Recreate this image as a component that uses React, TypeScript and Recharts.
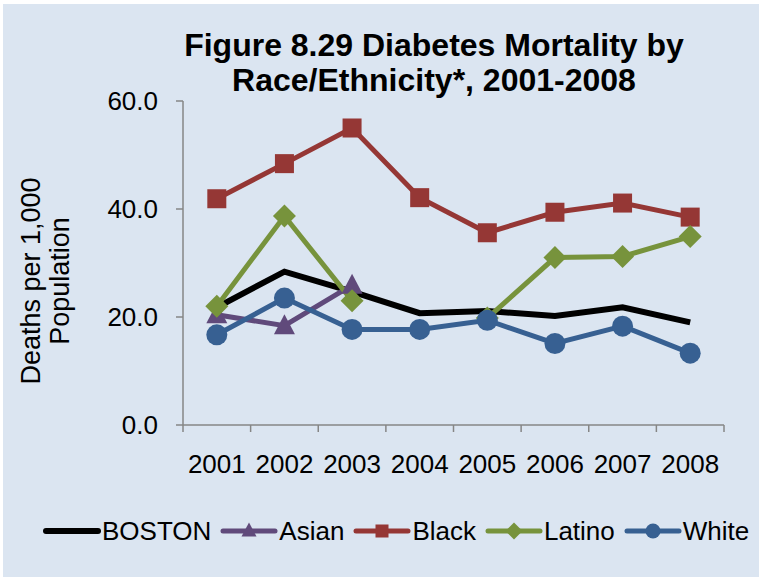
import React from "react";
import { LineChart, Line, XAxis, YAxis } from "recharts";

const years = ["2001", "2002", "2003", "2004", "2005", "2006", "2007", "2008"];
const boston = [21.8, 28.4, 24.7, 20.7, 21.1, 20.2, 21.8, 19.0];
const asian = [20.4, 18.4, 25.9, null, null, null, null, null];
const black = [41.9, 48.4, 55.0, 42.1, 35.6, 39.4, 41.1, 38.5];
const latino = [22.0, 38.7, 23.0, null, 19.8, 31.0, 31.2, 34.9];
const white = [16.7, 23.5, 17.7, 17.7, 19.4, 15.1, 18.3, 13.3];
const yTicks = [0, 20, 40, 60];

const data = years.map((year, i) => ({
  year,
  BOSTON: boston[i],
  Asian: asian[i],
  Black: black[i],
  Latino: latino[i],
  White: white[i],
}));

const W = 759;
const H = 577;
const PLOT_LEFT = 183;
const PLOT_RIGHT = 724;
const PLOT_TOP = 101;
const PLOT_BOTTOM = 425;
const HALF_BAND = (PLOT_RIGHT - PLOT_LEFT) / years.length / 2;
const FONT = "'Liberation Sans', Arial, sans-serif";
const AXIS = "#868686";

type Shape = "none" | "triangle" | "square" | "diamond" | "circle";

const series: { key: string; color: string; shape: Shape; width: number }[] = [
  { key: "BOSTON", color: "#000000", shape: "none", width: 6 },
  { key: "Asian", color: "#604a7b", shape: "triangle", width: 5 },
  { key: "Black", color: "#953735", shape: "square", width: 5 },
  { key: "Latino", color: "#77933c", shape: "diamond", width: 5 },
  { key: "White", color: "#376092", shape: "circle", width: 5 },
];

function marker(shape: Shape, color: string, cx: number, cy: number, s: number) {
  if (shape === "square")
    return <rect x={cx - s} y={cy - s} width={s * 2} height={s * 2} fill={color} />;
  if (shape === "circle") return <circle cx={cx} cy={cy} r={s + 1} fill={color} />;
  if (shape === "diamond")
    return (
      <polygon
        points={`${cx},${cy - s - 2} ${cx + s + 2},${cy} ${cx},${cy + s + 2} ${cx - s - 2},${cy}`}
        fill={color}
      />
    );
  if (shape === "triangle")
    return (
      <polygon
        points={`${cx},${cy - s - 2} ${cx + s + 1},${cy + s - 1} ${cx - s - 1},${cy + s - 1}`}
        fill={color}
      />
    );
  return null;
}

const makeDot = (shape: Shape, color: string) => (props: any) => {
  const { cx, cy, value, index } = props;
  if (cx == null || cy == null || value == null) return <g key={`e-${index}`} />;
  return <g key={`d-${index}`}>{marker(shape, color, cx, cy, 9.5)}</g>;
};

const XTick = (props: any) => {
  const { x, y, payload, index } = props;
  return (
    <g>
      <line x1={x - HALF_BAND} x2={x - HALF_BAND} y1={PLOT_BOTTOM} y2={PLOT_BOTTOM + 7} stroke={AXIS} strokeWidth={1.5} />
      {index === years.length - 1 && (
        <line x1={x + HALF_BAND} x2={x + HALF_BAND} y1={PLOT_BOTTOM} y2={PLOT_BOTTOM + 7} stroke={AXIS} strokeWidth={1.5} />
      )}
      <text x={x} y={y} dy="0.71em" textAnchor="middle" fill="#000" fontSize={26} fontFamily={FONT}>
        {payload.value}
      </text>
    </g>
  );
};

function LegendRow() {
  return (
    <div
      style={{
        position: "absolute",
        left: 42,
        top: 515,
        display: "flex",
        alignItems: "center",
        fontFamily: FONT,
        fontSize: 26,
        color: "#000",
        whiteSpace: "nowrap",
      }}
    >
      {series.map((s) => (
        <div key={s.key} style={{ display: "flex", alignItems: "center", marginRight: 8 }}>
          <svg width={59} height={32}>
            <line x1={4} x2={56} y1={16} y2={16} stroke={s.color} strokeWidth={s.width} strokeLinecap="round" />
            {marker(s.shape, s.color, 30, 16, 6.5)}
          </svg>
          <span style={{ marginLeft: 1 }}>{s.key}</span>
        </div>
      ))}
    </div>
  );
}

export default function App() {
  return (
    <div style={{ position: "fixed", left: 0, top: 0, width: W, height: H, background: "#fff" }}>
      <div style={{ position: "absolute", left: 3, top: 4, right: 0, bottom: 0, background: "#dbe5f1" }} />
      <svg width={W} height={H} style={{ position: "absolute", left: 0, top: 0 }}>
        <text x={434} y={56} textAnchor="middle" fontFamily={FONT} fontWeight="bold" fontSize={32} fill="#000">
          Figure 8.29 Diabetes Mortality by
        </text>
        <text x={434} y={91} textAnchor="middle" fontFamily={FONT} fontWeight="bold" fontSize={32} fill="#000">
          Race/Ethnicity*, 2001-2008
        </text>
        <g transform="translate(0,281) rotate(-90)" fontFamily={FONT} fontSize={27} fill="#000">
          <text x={0} y={40} textAnchor="middle">Deaths per 1,000</text>
          <text x={0} y={69} textAnchor="middle">Population</text>
        </g>
      </svg>
      <div style={{ position: "absolute", left: 0, top: 0 }}>
        <LineChart
          width={W}
          height={H}
          data={data}
          margin={{ top: PLOT_TOP, right: W - PLOT_RIGHT, bottom: 0, left: 0 }}
        >
          <XAxis
            dataKey="year"
            height={H - PLOT_BOTTOM}
            padding={{ left: HALF_BAND, right: HALF_BAND }}
            axisLine={{ stroke: AXIS, strokeWidth: 1.5 }}
            tickLine={false}
            tickSize={7}
            tickMargin={23}
            tick={<XTick />}
            interval={0}
          />
          <YAxis
            width={PLOT_LEFT}
            domain={[0, 60]}
            ticks={yTicks}
            tickFormatter={(v: number) => v.toFixed(1)}
            axisLine={{ stroke: AXIS, strokeWidth: 1.5 }}
            tickLine={{ stroke: AXIS, strokeWidth: 1.5 }}
            tickSize={7}
            tickMargin={18}
            tick={{ fill: "#000", fontSize: 26, fontFamily: FONT }}
            interval={0}
          />
          {series.map((s) => (
            <Line
              key={s.key}
              dataKey={s.key}
              stroke={s.color}
              strokeWidth={s.width}
              dot={s.shape === "none" ? false : makeDot(s.shape, s.color)}
              activeDot={false}
              connectNulls={false}
              isAnimationActive={false}
            />
          ))}
        </LineChart>
      </div>
      <LegendRow />
    </div>
  );
}
